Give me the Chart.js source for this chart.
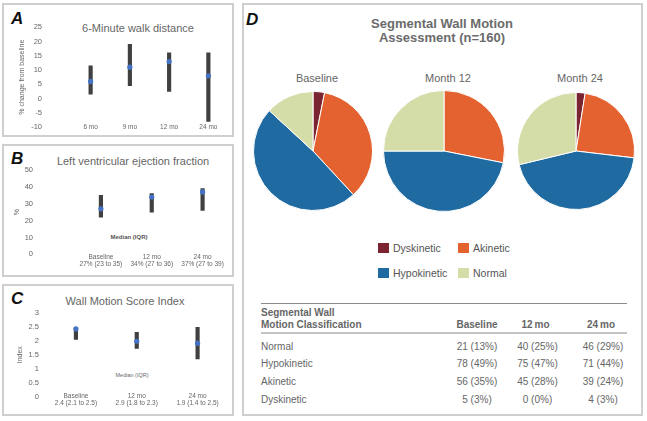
<!DOCTYPE html>
<html>
<head>
<meta charset="utf-8">
<script src="https://cdn.jsdelivr.net/npm/chart.js@4.4.1/dist/chart.umd.min.js"></script>
<style>
  body { margin: 0; width: 647px; height: 421px; background: #fff; position: relative; overflow: hidden;
         font-family: "Liberation Sans", Arial, sans-serif; color: #666; }
  .panel { position: absolute; border: 2px solid #cfcfcf; box-sizing: border-box; }
  .t { position: absolute; white-space: nowrap; line-height: 1; transform: translate(-50%, -50%); }
  .l { position: absolute; white-space: nowrap; line-height: 1; transform: translateY(-50%); }
  .letter { position: absolute; font-weight: bold; font-style: italic; font-size: 17px; color: #111; line-height: 1; }
  canvas { position: absolute; }
  .sq { position: absolute; width: 11px; height: 10px; }
  .rule { position: absolute; left: 261px; width: 366px; }
</style>
</head>
<body>
<div class="panel" style="left:2px;top:3px;width:232px;height:134px"></div>
<div class="panel" style="left:2px;top:144px;width:232px;height:133px"></div>
<div class="panel" style="left:2px;top:284px;width:232px;height:132px"></div>
<div class="panel" style="left:242px;top:3px;width:401px;height:413px"></div>

<div class="letter" style="left:11px;top:10px">A</div>
<div class="letter" style="left:11px;top:150px">B</div>
<div class="letter" style="left:11px;top:290px">C</div>
<div class="letter" style="left:246px;top:11px">D</div>

<div class="t" style="left:138px;top:28px;font-size:11px">6-Minute walk distance</div>
<div class="t" style="left:133px;top:161px;font-size:11px">Left ventricular ejection fraction</div>
<div class="t" style="left:125px;top:301px;font-size:11px">Wall Motion Score Index</div>
<div class="t" style="left:129px;top:237px;font-size:6px;font-weight:bold;color:#555">Median (IQR)</div>
<div class="t" style="left:132px;top:376px;font-size:5.5px;color:#666">Median (IQR)</div>

<canvas id="walk" width="226" height="128" style="left:6px;top:6px;width:226px;height:128px"></canvas>
<canvas id="lvef" width="226" height="127" style="left:6px;top:147px;width:226px;height:127px"></canvas>
<canvas id="wmsi" width="226" height="126" style="left:6px;top:287px;width:226px;height:126px"></canvas>

<div class="t" style="left:442px;top:31px;font-size:13px;font-weight:bold;color:#6b6b6b;line-height:14.3px;text-align:center">Segmental Wall Motion<br>Assessment (n=160)</div>
<div class="t" style="left:317px;top:78px;font-size:11px">Baseline</div>
<div class="t" style="left:448px;top:78px;font-size:11px">Month 12</div>
<div class="t" style="left:580px;top:78px;font-size:11px">Month 24</div>

<canvas id="pie0" width="120" height="120" style="left:253px;top:91px;width:120px;height:120px"></canvas>
<canvas id="pie1" width="122" height="122" style="left:383px;top:90px;width:122px;height:122px"></canvas>
<canvas id="pie2" width="118" height="118" style="left:517px;top:92px;width:118px;height:118px"></canvas>

<div id="legend"></div>
<div id="table"></div>

<script>
const walkLabels = ["6 mo", "9 mo", "12 mo", "24 mo"];
const walkMedian = [6, 11, 13, 8];
const walkLow = [1.5, 4.5, 2.5, -8];
const walkHigh = [11.5, 19, 16, 16];

const lvefLabels = [["Baseline", "27% (23 to 35)"], ["12 mo", "34% (27 to 36)"], ["24 mo", "37% (27 to 39)"]];
const lvefMedian = [27, 34, 37];
const lvefLow = [22, 25, 26];
const lvefHigh = [35, 36, 39];

const wmsiLabels = [["Baseline", "2.4 (2.1 to 2.5)"], ["12 mo", "2.9 (1.8 to 2.3)"], ["24 mo", "1.9 (1.4 to 2.5)"]];
const wmsiMedian = [2.42, 1.98, 1.91];
const wmsiLow = [2.05, 1.72, 1.35];
const wmsiHigh = [2.47, 2.3, 2.48];

const wallClasses = ["Dyskinetic", "Akinetic", "Hypokinetic", "Normal"];
const wallColors = ["#7a2331", "#e4622f", "#1f6aa0", "#d4dca8"];
const wallBaseline = [5, 56, 78, 21];
const wall12 = [0, 45, 75, 40];
const wall24 = [4, 39, 71, 46];
const wallTotal = 160;
const tableCols = ["Baseline", "12\u2009mo", "24\u2009mo"];

const FONT = "'Liberation Sans', Arial, sans-serif";

function rangeChart(id, labels, low, high, med, y, s) {
  return new Chart(document.getElementById(id), {
    type: "bar",
    data: {
      labels: labels,
      datasets: [
        { type: "line", data: med, showLine: false, pointRadius: 2.6, pointBorderWidth: 0,
          pointBackgroundColor: "#4472c4" },
        { data: low.map((v, i) => [v, high[i]]), backgroundColor: "#404040", barThickness: 3.5 }
      ]
    },
    options: {
      responsive: false,
      animation: false,
      events: [],
      layout: { padding: { left: 0, right: s.right, top: s.top, bottom: 0 } },
      plugins: { legend: { display: false }, tooltip: { enabled: false } },
      scales: {
        x: {
          grid: { display: false, drawTicks: false },
          border: { display: false },
          // mirror stops the labels being clipped where they sit level with the lowest tick
          ticks: { color: "#666", padding: s.xPad, mirror: true, maxRotation: 0, autoSkip: false,
                   font: { family: FONT, size: 6.5, lineHeight: 1.15 } },
          afterFit: (sc) => { sc.height = s.xH; }
        },
        y: {
          min: y.min, max: y.max,
          // invisible tick marks give the gap between labels and plot
          grid: { display: true, color: "rgba(0,0,0,0)", drawOnChartArea: false, drawTicks: true, tickLength: s.yGap },
          border: { display: false },
          ticks: { stepSize: y.step, color: "#666", padding: 0,
                   font: { family: FONT, size: 7.5 }, callback: (v) => String(v) },
          title: { display: true, text: y.title, color: "#666", padding: { top: s.tPad, bottom: 0 },
                   font: { family: FONT, size: 7, lineHeight: 1.2 } },
          afterFit: (sc) => { sc.width = s.yW; }
        }
      }
    }
  });
}

rangeChart("walk", walkLabels, walkLow, walkHigh, walkMedian,
  { min: -10, max: 25, step: 5, title: "% change from baseline" },
  { right: 1, top: 21.3, xH: 7, xPad: -3.75, yW: 65, yGap: 29, tPad: 11.5 });

rangeChart("lvef", lvefLabels, lvefLow, lvefHigh, lvefMedian,
  { min: 0, max: 50, step: 10, title: "%" },
  { right: 3.5, top: 23, xH: 19.7, xPad: -6.15, yW: 69.5, yGap: 42.5, tPad: 6.5 });

rangeChart("wmsi", wmsiLabels, wmsiLow, wmsiHigh, wmsiMedian,
  { min: 0, max: 3, step: 0.5, title: "Index" },
  { right: 2, top: 25.7, xH: 16.3, xPad: -3.05, yW: 39.5, yGap: 6.5, tPad: 10.2 });

[wallBaseline, wall12, wall24].forEach((vals, i) => {
  new Chart(document.getElementById("pie" + i), {
    type: "pie",
    data: {
      labels: wallClasses,
      datasets: [{ data: vals, backgroundColor: wallColors, borderColor: "#fff", borderWidth: 1 }]
    },
    options: {
      responsive: false,
      animation: false,
      events: [],
      plugins: { legend: { display: false }, tooltip: { enabled: false } }
    }
  });
});

// legend, 2 x 2 grid
const legendPos = [[378, 247.5], [458, 247.5], [378, 273.3], [458, 273.3]];
let lg = "";
wallClasses.forEach((name, i) => {
  const [x, y] = legendPos[i];
  lg += `<div class="sq" style="left:${x}px;top:${y - 5}px;background:${wallColors[i]}"></div>`;
  lg += `<div class="l" style="left:${x + 15}px;top:${y}px;font-size:10.5px;color:#555">${name}</div>`;
});
document.getElementById("legend").innerHTML = lg;

// table
const colX = [477, 537.5, 603];
const rowY = [346.7, 364.3, 382.3, 400];
let tb = `<div class="rule" style="top:303px;height:1px;background:#8a8a8a"></div>`;
tb += `<div class="l" style="left:261px;top:313px;font-size:10px;font-weight:bold;color:#666">Segmental Wall</div>`;
tb += `<div class="l" style="left:261px;top:324.5px;font-size:10px;font-weight:bold;color:#666">Motion Classification</div>`;
tableCols.forEach((c, j) => {
  tb += `<div class="t" style="left:${colX[j] - (j ? 2 : 0)}px;top:324.5px;font-size:10px;font-weight:bold;color:#666">${c}</div>`;
});
tb += `<div class="rule" style="top:331.5px;height:2px;background:#c4c4c4"></div>`;
const cols = [wallBaseline, wall12, wall24];
[3, 2, 1, 0].forEach((k, r) => {
  tb += `<div class="l" style="left:261px;top:${rowY[r]}px;font-size:10px;color:#666">${wallClasses[k]}</div>`;
  cols.forEach((vals, j) => {
    const pct = Math.round(vals[k] / wallTotal * 100);
    tb += `<div class="t" style="left:${colX[j]}px;top:${rowY[r]}px;font-size:10px;color:#666">${vals[k]} (${pct}%)</div>`;
  });
});
document.getElementById("table").innerHTML = tb;
</script>
</body>
</html>
